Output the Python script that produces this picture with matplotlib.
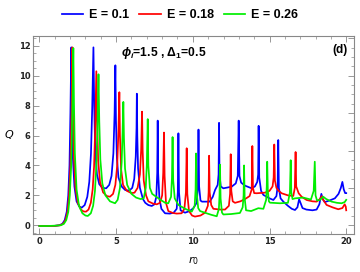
import numpy as np
import matplotlib
matplotlib.use("Agg")
import matplotlib.pyplot as plt
from matplotlib.ticker import MultipleLocator

# values
r_01 = [0, 0.5, 1.0, 1.3, 1.5, 1.65, 1.78, 1.88, 1.96, 2.02, 2.08, 2.12, 2.18, 2.28, 2.42, 2.6,
        2.76, 2.95, 3.12, 3.25, 3.36, 3.44, 3.52, 3.57, 3.64, 3.75, 3.9, 4.1, 4.35, 4.55, 4.7,
        4.82, 4.9, 4.95, 4.99, 5.05, 5.15, 5.35, 5.6, 5.86, 6.05, 6.18, 6.28, 6.33, 6.35, 6.38,
        6.43, 6.55, 6.75, 6.9, 7.1, 7.32, 7.5, 7.62, 7.68, 7.71, 7.74, 7.82, 7.95, 8.19, 8.5,
        8.75, 8.95, 9.02, 9.06, 9.1, 9.2, 9.49, 9.8, 10.03, 10.25, 10.33, 10.37, 10.41, 10.5,
        10.6, 11.1, 11.3, 11.45, 11.62, 11.68, 11.71, 11.74, 11.82, 11.99, 12.53, 12.8, 12.93,
        12.99, 13.04, 13.15, 13.4, 13.84, 14.05, 14.2, 14.26, 14.29, 14.33, 14.45, 14.6, 15.0,
        15.25, 15.45, 15.53, 15.57, 15.61, 15.72, 15.9, 16.2, 16.45, 16.66, 16.82, 16.93, 17.02,
        17.15, 17.4, 17.8, 18.07, 18.25, 18.38, 18.47, 18.6, 18.9, 19.26, 19.5, 19.65, 19.75,
        19.84, 19.93, 20.0]
Q_01 = [-0.05, -0.05, -0.04, 0.0, 0.1, 0.35, 0.9, 2.0, 4.0, 7.5, 11.9, 8.0, 4.5, 2.6, 1.6, 1.25,
        1.18, 1.35, 1.9, 2.9, 4.8, 7.8, 11.9, 8.0, 5.0, 3.4, 2.75, 2.5, 2.47, 2.7, 3.3,
        4.8, 7.5, 10.7, 7.0, 4.5, 3.2, 2.6, 2.35, 2.32, 2.5, 3.1, 4.6, 6.5, 8.8, 6.0,
        3.8, 2.5, 1.75, 1.5, 1.35, 1.29, 1.4, 1.9, 3.5, 7.0, 3.5, 1.8, 1.1, 0.8, 0.78,
        0.84, 1.1, 2.2, 6.15, 2.2, 1.0, 0.84, 0.95, 1.14, 1.5, 2.5, 6.4, 2.6, 1.65,
        1.58, 1.58, 1.9, 2.36, 2.7, 3.4, 6.85, 3.4, 2.6, 2.47, 2.58, 2.8, 3.3,
        7.0, 3.3, 2.85, 2.65, 2.47, 2.6, 2.9, 3.4, 6.65, 3.2, 2.3, 2.03, 1.8,
        1.69, 1.95, 2.6, 5.7, 2.5, 1.8, 1.58, 1.3, 1.1, 1.02, 1.2, 1.74, 1.5,
        1.15, 1.05, 1.0, 1.05, 1.4, 2.1, 1.75, 1.55, 1.65, 1.8, 2.1, 2.5, 2.9,
        2.4, 2.15, 2.15]

r_018 = [0, 0.5, 1.0, 1.35, 1.55, 1.7, 1.83, 1.93, 2.02, 2.09, 2.15, 2.19, 2.25, 2.35, 2.5, 2.7,
         2.88, 3.04, 3.2, 3.35, 3.47, 3.56, 3.63, 3.71, 3.76, 3.83, 3.95, 4.15, 4.4, 4.6, 4.8,
         4.95, 5.07, 5.15, 5.21, 5.25, 5.32, 5.45, 5.7, 6.0, 6.2, 6.4, 6.55, 6.63, 6.69, 6.73,
         6.8, 6.95, 7.1, 7.4, 7.65, 7.86, 8.0, 8.07, 8.12, 8.16, 8.25, 8.4, 8.7, 8.95, 9.27,
         9.45, 9.55, 9.6, 9.64, 9.75, 9.95, 10.14, 10.5, 10.8, 10.98, 11.03, 11.06, 11.1, 11.2,
         11.34, 11.8, 12.1, 12.35, 12.43, 12.47, 12.51, 12.6, 12.75, 13.1, 13.4, 13.7, 13.84,
         13.88, 13.92, 14.0, 14.16, 14.7, 15.0, 15.2, 15.27, 15.31, 15.35, 15.45, 15.6, 15.79,
         16.2, 16.55, 16.65, 16.7, 16.74, 16.9, 17.1, 17.42, 17.8, 18.07, 18.28, 18.4, 18.5,
         18.72, 19.1, 19.48, 19.75, 19.9, 19.97, 20.0]
Q_018 = [-0.05, -0.05, -0.04, 0.0, 0.1, 0.35, 0.9, 2.0, 4.0, 7.5, 11.9, 8.0, 4.5, 2.5, 1.5, 1.05,
         0.92, 0.91, 1.05, 1.5, 2.4, 3.9, 6.2, 10.3, 7.0, 4.3, 2.9, 2.2, 1.95, 1.91, 2.1,
         2.7, 4.0, 6.3, 8.9, 6.0, 3.8, 2.7, 2.3, 2.15, 2.18, 2.5, 3.4, 5.0, 7.6, 5.0,
         3.0, 2.0, 1.6, 1.45, 1.4, 1.5, 2.0, 3.5, 6.2, 3.3, 1.5, 0.95, 0.82, 0.78, 0.8,
         1.1, 2.2, 5.15, 2.1, 0.95, 0.65, 0.58, 0.65, 0.84, 1.3, 2.2, 4.65, 2.2, 1.35,
         1.1, 1.05, 1.05, 1.3, 2.1, 4.75, 2.3, 1.6, 1.5, 1.6, 1.75, 1.95, 2.4,
         5.3, 2.5, 2.15, 2.14, 2.18, 2.3, 2.6, 3.2, 5.4, 3.0, 2.5, 2.3, 2.14,
         2.0, 1.96, 2.5, 4.9, 2.6, 2.14, 1.9, 1.69, 1.6, 1.58, 1.75, 1.95, 1.7,
         1.36, 1.2, 1.07, 1.15, 1.4, 1.25, 1.0]

r_026 = [0, 0.5, 1.0, 1.4, 1.6, 1.75, 1.88, 1.98, 2.07, 2.14, 2.21, 2.25, 2.31, 2.42, 2.58, 2.8,
         3.0, 3.15, 3.35, 3.5, 3.62, 3.71, 3.78, 3.85, 3.9, 3.97, 4.1, 4.3, 4.6, 4.93, 5.1,
         5.25, 5.36, 5.42, 5.47, 5.51, 5.58, 5.72, 6.0, 6.3, 6.6, 6.8, 6.93, 7.0, 7.06, 7.1,
         7.2, 7.35, 7.54, 7.9, 8.2, 8.4, 8.58, 8.64, 8.68, 8.72, 8.82, 9.06, 9.5, 9.93, 10.12,
         10.18, 10.21, 10.25, 10.35, 10.47, 10.9, 11.2, 11.56, 11.7, 11.74, 11.77, 11.81, 11.9,
         11.99, 12.5, 13.07, 13.25, 13.31, 13.34, 13.38, 13.47, 13.8, 14.27, 14.6, 14.78, 14.82,
         14.85, 14.89, 14.96, 15.03, 15.68, 16.2, 16.33, 16.38, 16.42, 16.5, 16.66, 17.2, 17.7,
         17.88, 17.95, 18.0, 18.1, 18.3, 18.5, 18.7, 19.05, 19.4, 19.7, 19.9, 20.0]
Q_026 = [-0.05, -0.05, -0.03, 0.0, 0.1, 0.35, 0.9, 2.0, 4.0, 7.5, 11.85, 8.2, 4.8, 2.4, 1.3, 0.8,
         0.65, 0.62, 0.8, 1.3, 2.3, 4.0, 6.5, 10.1, 7.0, 4.4, 2.8, 2.0, 1.6, 1.47, 1.7,
         2.5, 4.2, 6.2, 8.25, 5.8, 3.8, 2.7, 2.1, 1.85, 1.75, 1.8, 2.5, 4.0, 7.1, 4.0,
         2.5, 2.1, 1.96, 1.7, 1.5, 1.47, 1.9, 3.2, 5.9, 3.0, 1.8, 1.36, 1.1, 0.91, 1.3,
         2.4, 4.8, 2.2, 1.15, 0.95, 0.8, 0.7, 0.6, 1.1, 2.0, 4.05, 1.8, 0.85,
         0.72, 0.75, 0.82, 1.2, 2.0, 4.0, 1.8, 1.0, 0.95, 1.14, 1.1, 1.7, 2.6,
         4.25, 2.3, 1.6, 1.51, 1.47, 1.5, 2.2, 4.35, 2.2, 1.75, 1.8, 1.85, 1.72,
         2.3, 4.25, 2.0, 1.65, 1.7, 1.91, 1.75, 1.58, 1.5, 1.47, 1.55, 1.7]

labels = ["E = 0.1", "E = 0.18", "E = 0.26"]
colors = ["#0000ff", "#ff0000", "#00ee00"]

plt.rcParams['mathtext.fontset'] = 'custom'
plt.rcParams['mathtext.rm'] = 'Liberation Sans:bold'
plt.rcParams['mathtext.it'] = 'Liberation Sans:bold:italic'
plt.rcParams['mathtext.bf'] = 'Liberation Sans:bold'

fig = plt.figure(figsize=(3.6, 2.72), dpi=100)
ax = fig.add_axes([0.0925, 0.14, 0.8905, 0.7276])

for r, q, lab, c in zip([r_01, r_018, r_026], [Q_01, Q_018, Q_026], labels, colors):
    ax.plot(r, q, color=c, lw=1.25, label=lab)

ax.set_xlim(-0.4, 20.5)
ax.set_ylim(-0.58, 12.66)

frame_c = '#888888'
for s in ax.spines.values():
    s.set_color(frame_c)
    s.set_linewidth(0.8)

ax.xaxis.set_major_locator(MultipleLocator(5))
ax.xaxis.set_minor_locator(MultipleLocator(1))
ax.yaxis.set_major_locator(MultipleLocator(2))
ax.yaxis.set_minor_locator(MultipleLocator(0.5))
ax.tick_params(which='both', direction='in', colors=frame_c, top=True, right=False,
               labelsize=6, labelcolor='#222222', pad=2)
ax.tick_params(which='major', length=4, width=0.6)
ax.tick_params(which='minor', length=2, width=0.5)
for t in ax.get_xticklabels() + ax.get_yticklabels():
    t.set_fontweight('bold')

# right frame carries its own tick spacing in the reference
ax_r = ax.twinx()
ax_r.set_ylim(ax.get_ylim())
ax_r.yaxis.set_major_locator(MultipleLocator(2.5))
ax_r.yaxis.set_minor_locator(MultipleLocator(0.625))
ax_r.tick_params(which='both', direction='in', colors=frame_c, labelright=False)
ax_r.tick_params(which='major', length=4, width=0.6)
ax_r.tick_params(which='minor', length=2, width=0.5)
for s in ax_r.spines.values():
    s.set_visible(False)

ax.set_xlabel(r'$r_0$', fontsize=8, math_fontfamily='dejavusans', labelpad=6)
ax.set_ylabel(r'$Q$', fontsize=8, math_fontfamily='dejavusans', rotation=0, va='center')
ax.yaxis.set_label_coords(-0.075, 0.5)

ax.text(0.274, 0.914, r'$\phi_i$=1.5 , $\Delta_1$=0.5', transform=ax.transAxes,
        fontsize=8.7, fontweight='bold', family='Liberation Sans', va='center')
ax.text(0.982, 0.929, '(d)', transform=ax.transAxes, fontsize=8.5, fontweight='bold',
        family='Liberation Sans', ha='right', va='center')

fig.legend(loc='center', bbox_to_anchor=(0.5, 0.945), ncol=3, frameon=False,
           prop={'family': 'Liberation Sans', 'weight': 'bold', 'size': 9},
           handlelength=1.7, handletextpad=0.5, columnspacing=0.8)

fig.savefig('out.png', dpi=100)
